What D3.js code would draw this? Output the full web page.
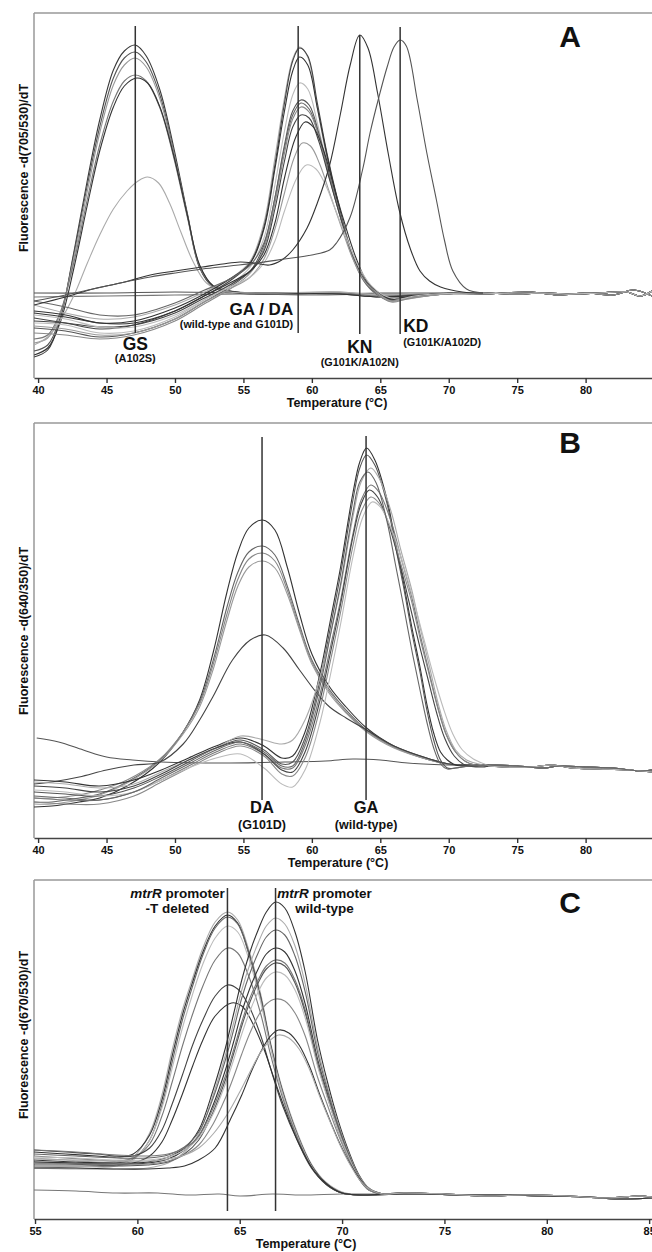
<!DOCTYPE html>
<html>
<head>
<meta charset="utf-8">
<script src="https://cdn.jsdelivr.net/npm/d3@7"></script>
<style>
  body { margin: 0; background: #fff; }
  text { font-family: "Liberation Sans", Arial, sans-serif; font-weight: bold; fill: #111; }
</style>
</head>
<body>
<div id="chart"></div>
<script>
// Temperatura (°C) vs fluorescencia derivada
const ticksAB = [40, 45, 50, 55, 60, 65, 70, 75, 80];
const ticksC = [55, 60, 65, 70, 75, 80, 85];

// ---- Panel A: -d(705/530)/dT ----
const aBlank = [
  [[39.7,0],[45,0],[50,1],[55,0],[60,-1],[65,0],[70,0]],
  [[39.7,-4],[45,-3],[50,-2],[55,-1],[60,-2],[65,-1],[70,-1]]
];
const aGS = [
  [[39.7,-64],[40.7,-57],[41.6,-27],[42.6,40],[43.6,113],[44.5,173],[45.5,223],[46.3,242],[47.1,248],[47.9,237],[48.9,203],[49.9,146],[50.9,80],[51.8,26],[52.8,6],[54.5,0],[58,-1],[62,0],[65,-3],[68,-1],[70,0]],
  [[39.7,-58],[40.7,-52],[41.6,-25],[42.6,38],[43.6,108],[44.5,166],[45.5,215],[46.3,235],[47.1,241],[47.9,231],[48.9,198],[49.9,142],[50.9,78],[51.8,25],[52.8,6],[54.5,1],[58,0],[62,-1],[65,-4],[68,-2],[70,0]],
  [[39.7,-50],[40.7,-45],[41.6,-22],[42.6,34],[43.6,102],[44.5,160],[45.5,208],[46.3,228],[47.1,235],[47.9,226],[48.9,194],[49.9,140],[50.9,78],[51.8,27],[52.8,7],[54.5,1],[58,0],[62,1],[65,-2],[68,-1],[70,0]],
  [[39.7,-46],[40.7,-42],[41.6,-20],[42.6,30],[43.6,94],[44.5,148],[45.5,192],[46.3,212],[47.1,218],[47.9,212],[48.9,185],[49.9,136],[50.9,76],[51.8,27],[52.8,7],[54.5,1],[58,-1],[62,0],[65,-3],[68,-1],[70,0]],
  [[39.7,-62],[40.7,-55],[41.6,-30],[42.6,24],[43.6,88],[44.5,142],[45.5,186],[46.3,207],[47.2,215],[48,210],[48.9,186],[49.9,138],[50.9,78],[51.8,28],[52.8,7],[54.5,1],[58,0],[62,-1],[65,-4],[68,-2],[70,0]],
  [[39.7,-52],[40.7,-44],[41.6,-28],[42.6,-3],[43.6,30],[44.5,58],[45.5,84],[46.5,102],[47.3,112],[48,116],[48.8,110],[49.6,90],[50.4,62],[51.3,32],[52.3,10],[53.5,2],[56,0],[62,1],[65,-2],[68,0],[70,0]]
];
const aGA = [
  [[39.7,-12],[42,-20],[44.5,-26],[47,-24],[50,-12],[52,0],[54,14],[55.5,32],[56.5,70],[57.3,135],[58,195],[58.6,234],[59.1,246],[59.7,236],[60.4,185],[61.1,135],[61.9,88],[62.8,42],[63.7,14],[64.6,0],[65.8,-6],[67,-5],[69,-1],[71,0]],
  [[39.7,-25],[42,-30],[44.5,-36],[47,-32],[50,-18],[52,-4],[54,12],[55.5,30],[56.5,66],[57.3,128],[58,190],[58.6,232],[59.1,245],[59.7,237],[60.4,190],[61.1,140],[61.9,92],[62.8,45],[63.7,15],[64.6,1],[65.8,-7],[67,-5],[69,-2],[71,0]],
  [[39.7,-18],[42,-22],[44.5,-30],[47,-28],[50,-15],[52,-2],[54,14],[55.5,30],[56.5,64],[57.3,124],[58,182],[58.6,222],[59.1,236],[59.7,228],[60.4,185],[61.1,138],[61.9,90],[62.8,44],[63.7,15],[64.6,2],[65.8,-5],[67,-4],[69,-1],[71,0]],
  [[39.7,-30],[42,-32],[44.5,-40],[47,-38],[50,-24],[52,-8],[54,8],[55.5,26],[56.5,55],[57.3,108],[58,162],[58.6,198],[59.1,210],[59.7,204],[60.4,170],[61.1,128],[61.9,85],[62.8,42],[63.7,14],[64.6,0],[65.8,-8],[67,-6],[69,-2],[71,0]],
  [[39.7,-35],[42,-38],[44.5,-44],[47,-40],[50,-26],[52,-10],[54,6],[55.5,22],[56.5,48],[57.3,95],[58,148],[58.6,182],[59.2,193],[59.8,188],[60.5,160],[61.2,122],[62,82],[62.9,40],[63.8,13],[64.7,0],[65.8,-7],[67,-5],[69,-1],[71,0]],
  [[39.7,-8],[42,-14],[44.5,-22],[47,-22],[50,-10],[52,2],[54,14],[55.5,28],[56.5,50],[57.3,95],[58,145],[58.6,178],[59.2,190],[59.8,184],[60.5,158],[61.2,120],[62,80],[62.9,40],[63.8,12],[64.7,-1],[65.8,-8],[67,-5],[69,-2],[71,0]],
  [[39.7,-40],[42,-42],[44.5,-46],[47,-42],[50,-28],[52,-12],[54,4],[55.5,20],[56.5,45],[57.3,90],[58,140],[58.6,174],[59.2,186],[59.8,181],[60.5,157],[61.2,120],[62,82],[62.9,42],[63.8,14],[64.7,0],[65.8,-9],[67,-6],[69,-2],[71,0]],
  [[39.7,-28],[42,-30],[44.5,-34],[47,-32],[50,-20],[52,-6],[54,8],[55.5,22],[56.5,42],[57.3,84],[58,132],[58.6,166],[59.2,178],[59.8,175],[60.5,152],[61.2,118],[62,80],[62.9,41],[63.8,14],[64.7,1],[65.8,-6],[67,-4],[69,-1],[71,0]],
  [[39.7,-20],[42,-24],[44.5,-30],[47,-30],[50,-18],[52,-4],[54,10],[55.5,22],[56.5,38],[57.3,70],[58,115],[58.8,155],[59.5,171],[60.1,166],[60.8,145],[61.5,112],[62.3,74],[63.2,36],[64,12],[64.9,0],[65.8,-6],[67,-4],[69,-1],[71,0]],
  [[39.7,-33],[42,-36],[44.5,-42],[47,-40],[50,-26],[52,-10],[54,4],[55.5,16],[56.5,34],[57.3,64],[58,100],[58.7,135],[59.3,150],[59.9,147],[60.6,128],[61.3,100],[62.1,68],[63,34],[63.9,11],[64.8,0],[65.8,-8],[67,-5],[69,-2],[71,0]],
  [[39.7,-22],[42,-26],[44.5,-34],[47,-34],[50,-22],[52,-8],[54,6],[55.5,16],[56.5,30],[57.3,52],[58,82],[58.9,115],[59.6,128],[60.3,124],[61,108],[61.7,84],[62.5,56],[63.4,27],[64.3,8],[65.2,-2],[66.2,-6],[67.5,-3],[69,-1],[71,0]]
];
const aKN = [
  [[39.7,-12],[42,-4],[44,4],[46,10],[48.2,18],[50,22],[52,26],[53.5,29],[54.75,31],[55.8,30],[56.9,28],[57.8,33],[58.6,43],[59.65,65],[60.4,90],[61.3,128],[62.1,180],[62.8,228],[63.5,258],[64.1,245],[64.8,200],[65.6,138],[66.4,82],[67.2,44],[67.9,22],[68.6,12],[69.4,6],[71,1],[72.5,0]]
];
const aKD = [
  [[39.7,-8],[42,-2],[44,4],[46,10],[48.2,16],[50,20],[52,24],[54,27],[56,30],[58,34],[60,38],[61.3,43],[61.8,50],[62.8,76],[63.7,123],[64.25,160],[64.9,196],[65.5,226],[66,246],[66.45,253],[66.9,247],[67.7,193],[68.4,140],[69.1,93],[69.7,52],[70.3,22],[71.3,4],[72.5,0]]
];
const tailA = [
  [[72.5,0],[75,-1],[77,0],[79,-1],[81,0],[83,1],[84,-3],[84.85,2]],
  [[72.5,-1],[74,0],[76,1],[78,-2],[80,0],[82,-2],[83.5,3],[84.85,-3]]
];
const markersA = [47.1, 59.0, 63.5, 66.45];
const markerSpanA = [[-40, 267], [-40, 267], [-41, 258], [-41, 266]];

// ---- Panel B: -d(640/350)/dT ----
const bBlank = [
  [[39.9,24],[41.5,20],[43.3,12],[45,5],[46.9,2],[49,0],[54,-1],[58,0],[61,1],[63,3],[65,2],[67,-1],[70,-3]]
];
const bDA = [
  [[39.7,-45],[41,-44],[43,-40],[44.5,-36],[46.5,-24],[48.9,0],[50.6,30],[51.8,62],[52.8,110],[53.8,170],[54.6,210],[55.4,234],[56.4,242],[57.3,232],[58.2,195],[59.1,148],[60,108],[61.3,75],[62.5,55],[64,34],[66,16],[68.6,3],[70,-2]],
  [[39.7,-40],[41,-40],[43,-36],[44.5,-32],[46.5,-20],[48.9,2],[50.6,30],[51.8,60],[52.8,102],[53.8,155],[54.6,190],[55.4,210],[56.4,216],[57.3,207],[58.2,176],[59.1,137],[60,102],[61.3,72],[62.5,52],[64,32],[66,15],[68.6,2],[70,-2]],
  [[39.7,-36],[41,-36],[43,-33],[44.5,-28],[46.5,-18],[48.9,3],[50.6,30],[51.8,58],[52.8,98],[53.8,148],[54.6,183],[55.4,203],[56.4,209],[57.3,201],[58.2,172],[59.1,134],[60,100],[61.3,70],[62.5,50],[64,31],[66,15],[68.6,2],[70,-2]],
  [[39.7,-42],[41,-42],[43,-38],[44.5,-33],[46.5,-21],[48.9,1],[50.6,28],[51.8,55],[52.8,93],[53.8,142],[54.6,176],[55.4,195],[56.4,201],[57.3,194],[58.2,168],[59.1,132],[60,98],[61.3,68],[62.5,49],[64,30],[66,14],[68.6,2],[70,-2]],
  [[39.7,-22],[41,-20],[43,-15],[45,-8],[47,-3],[48.9,0],[50.6,18],[51.8,42],[52.8,66],[54.2,102],[55.5,122],[56.6,127],[57.9,114],[59.1,92],[60.3,70],[61.3,55],[62.5,44],[64,32],[66,16],[68.6,3],[70,-2]]
];
const bGA = [
  [[39.7,-18],[42,-20],[44.5,-24],[47,-18],[49,-8],[51,4],[53,16],[54.8,24],[56.5,16],[57.8,4],[58.6,6],[59.5,30],[60.6,89],[61.4,145],[62.1,195],[63,269],[63.5,300],[64,314],[64.6,302],[65.5,262],[66.1,220],[66.7,179],[67.3,135],[67.9,95],[68.4,58],[68.9,29],[69.4,10],[69.9,2],[70.5,-3],[71.5,-4]],
  [[39.7,-30],[42,-32],[44.5,-34],[47,-26],[49,-14],[51,0],[53,14],[54.8,22],[56.5,12],[57.8,-2],[58.6,0],[59.5,24],[60.6,82],[61.4,138],[62.1,188],[63,262],[63.5,294],[64,307],[64.6,297],[65.5,258],[66.1,216],[66.7,175],[67.3,130],[67.9,90],[68.4,52],[68.9,22],[69.4,2],[69.9,-6],[70.5,-6],[71.5,-4]],
  [[39.7,-20],[42,-22],[44.5,-26],[47,-22],[49,-10],[51,2],[53,14],[54.8,26],[56.5,22],[57.8,18],[58.6,22],[59.5,42],[60.6,85],[61.4,130],[62.1,175],[63,245],[63.6,280],[64.3,294],[64.9,284],[65.8,250],[66.5,212],[67.3,172],[67.9,135],[68.6,95],[69.2,60],[69.8,32],[70.5,12],[71.3,2],[72.5,-3]],
  [[39.7,-36],[42,-38],[44.5,-38],[47,-30],[49,-18],[51,-4],[53,10],[54.8,18],[56.5,8],[57.8,-6],[58.6,-6],[59.5,16],[60.6,68],[61.4,118],[62.1,162],[63,228],[63.6,262],[64.3,277],[64.9,270],[65.8,240],[66.5,205],[67.3,165],[67.9,128],[68.6,88],[69.2,55],[69.8,28],[70.5,10],[71.3,0],[72.5,-4]],
  [[39.7,-24],[42,-26],[44.5,-30],[47,-24],[49,-12],[51,2],[53,14],[54.8,20],[56.5,8],[57.8,-8],[58.6,-10],[59.5,10],[60.6,62],[61.4,112],[62.1,158],[63,225],[63.6,258],[64.2,272],[64.8,265],[65.6,238],[66.4,200],[67.1,160],[67.8,120],[68.5,82],[69.1,50],[69.7,24],[70.4,6],[71.2,-3],[72.5,-5]],
  [[39.7,-40],[42,-42],[44.5,-42],[47,-34],[49,-20],[51,-6],[53,8],[54.8,16],[56.5,6],[57.8,-12],[58.6,-14],[59.5,4],[60.6,54],[61.4,104],[62.1,150],[63,216],[63.6,250],[64.3,265],[64.9,259],[65.8,232],[66.5,198],[67.3,160],[67.9,124],[68.6,86],[69.2,54],[69.8,28],[70.5,10],[71.3,0],[72.5,-4]],
  [[39.7,-28],[42,-30],[44.5,-34],[47,-30],[49,-18],[51,-6],[53,4],[54.8,8],[56.5,-6],[57.8,-22],[58.6,-25],[59.5,-8],[60.6,40],[61.4,90],[62.1,138],[63,205],[63.7,244],[64.4,260],[65,255],[65.9,230],[66.7,196],[67.5,158],[68.2,122],[68.9,86],[69.6,54],[70.3,28],[71,12],[71.8,3],[72.8,-3]],
  [[39.7,-34],[42,-36],[44.5,-38],[47,-30],[49,-16],[51,-2],[53,12],[54.8,20],[56.5,10],[57.8,-4],[58.6,-4],[59.5,20],[60.6,76],[61.4,130],[62.1,178],[63,250],[63.5,280],[64.1,290],[64.7,279],[65.5,240],[66.1,198],[66.7,156],[67.3,112],[67.9,72],[68.4,40],[68.9,14],[69.4,-2],[69.9,-7],[70.5,-6],[71.5,-4]]
];
const tailB = [
  [[73,-4],[74,-5],[76,-5],[77.6,-3],[79,-6],[81,-7],[83,-8],[84.85,-10]],
  [[73,-3],[75,-4],[77,-6],[78,-4],[80,-5],[82,-6],[84,-9],[84.85,-8]]
];
const markersB = [56.36, 63.96];
const markerSpanB = [[-38, 325], [-38, 326]];

// ---- Panel C: -d(670/530)/dT ----
const cBlank = [
  [[54.95,0],[57,-1],[59,-3],[61,-3],[62.5,-5],[64,-4],[65,-6],[66.6,-4],[68,-5],[70,-4],[72,-4]]
];
const cDel = [
  [[54.95,32],[56.5,30],[58,28],[59,28],[59.8,33],[60.6,57],[61.2,95],[61.7,140],[62.2,180],[62.7,212],[63.2,242],[63.8,268],[64.4,278],[64.9,270],[65.4,243],[66,198],[66.5,148],[67.1,100],[67.8,58],[68.5,26],[69.2,8],[70,-2],[71,-5]],
  [[54.95,38],[56.5,36],[58,34],[59,33],[59.8,36],[60.6,55],[61.2,90],[61.7,134],[62.2,175],[62.7,208],[63.2,238],[63.8,264],[64.4,275],[64.9,267],[65.4,240],[66,195],[66.5,146],[67.1,98],[67.8,56],[68.5,25],[69.2,7],[70,-3],[71,-5]],
  [[54.95,28],[56.5,27],[58,26],[59,27],[59.8,31],[60.6,50],[61.2,85],[61.7,128],[62.2,170],[62.7,204],[63.2,235],[63.8,262],[64.4,273],[64.9,266],[65.4,239],[66,194],[66.5,145],[67.1,97],[67.8,55],[68.5,24],[69.2,6],[70,-3],[71,-5]],
  [[54.95,22],[56.5,22],[58,22],[59,24],[59.8,30],[60.6,50],[61.2,82],[61.7,122],[62.2,162],[62.7,196],[63.2,226],[63.8,252],[64.4,264],[64.9,258],[65.4,234],[66,190],[66.5,143],[67.1,96],[67.8,55],[68.5,24],[69.2,6],[70,-3],[71,-5]],
  [[54.95,34],[56.5,32],[58,30],[59,29],[59.8,32],[60.6,46],[61.2,74],[61.7,108],[62.2,144],[62.7,176],[63.2,204],[63.8,230],[64.4,242],[64.9,237],[65.4,216],[66,178],[66.5,136],[67.1,92],[67.8,53],[68.5,23],[69.2,6],[70,-3],[71,-5]],
  [[54.95,40],[56.5,38],[58,36],[59,34],[59.8,34],[60.6,42],[61.2,60],[61.7,86],[62.2,115],[62.7,145],[63.2,170],[63.8,194],[64.4,205],[64.9,201],[65.4,186],[66,156],[66.5,122],[67.1,84],[67.8,50],[68.5,22],[69.2,6],[70,-3],[71,-5]],
  [[54.95,26],[56.5,26],[58,25],[59,25],[59.8,27],[60.6,34],[61.2,48],[61.7,70],[62.2,96],[62.7,124],[63.2,150],[63.8,174],[64.6,187],[65.1,184],[65.6,168],[66.2,140],[66.7,110],[67.3,76],[67.9,46],[68.6,20],[69.3,5],[70,-3],[71,-5]]
];
const cWT = [
  [[54.95,30],[57,28],[59,27],[60.5,28],[61.5,33],[62.3,42],[63,60],[63.7,100],[64.3,142],[64.7,176],[65.1,210],[65.5,238],[65.9,260],[66.3,278],[66.75,288],[67.2,282],[67.7,258],[68.2,218],[68.8,150],[69.3,107],[69.8,70],[70.3,40],[70.8,16],[71.3,2],[72,-4]],
  [[54.95,22],[57,21],[59,21],[60.5,22],[61.5,27],[62.3,38],[63,56],[63.7,95],[64.3,135],[64.7,167],[65.1,200],[65.5,226],[65.9,247],[66.3,264],[66.75,272],[67.2,266],[67.7,244],[68.2,206],[68.8,143],[69.3,102],[69.8,67],[70.3,38],[70.8,15],[71.3,2],[72,-4]],
  [[54.95,36],[57,34],[59,32],[60.5,32],[61.5,35],[62.3,43],[63,58],[63.7,92],[64.3,130],[64.7,160],[65.1,192],[65.5,217],[65.9,237],[66.3,253],[66.75,260],[67.2,255],[67.7,234],[68.2,198],[68.8,138],[69.3,99],[69.8,65],[70.3,37],[70.8,14],[71.3,1],[72,-4]],
  [[54.95,28],[57,27],[59,26],[60.5,27],[61.5,31],[62.3,40],[63,54],[63.7,85],[64.3,120],[64.7,148],[65.1,178],[65.5,202],[65.9,221],[66.3,236],[66.75,242],[67.2,238],[67.7,219],[68.2,186],[68.8,131],[69.3,95],[69.8,62],[70.3,35],[70.8,13],[71.3,1],[72,-4]],
  [[54.95,40],[57,38],[59,35],[60.5,34],[61.5,36],[62.3,42],[63,54],[63.7,82],[64.3,114],[64.7,140],[65.1,168],[65.5,192],[65.9,210],[66.3,224],[66.75,230],[67.2,227],[67.7,210],[68.2,180],[68.8,128],[69.3,93],[69.8,61],[70.3,35],[70.8,13],[71.3,1],[72,-4]],
  [[54.95,24],[57,24],[59,24],[60.5,25],[61.5,28],[62.3,36],[63,50],[63.7,78],[64.3,110],[64.7,136],[65.1,164],[65.5,188],[65.9,207],[66.3,221],[66.75,227],[67.2,224],[67.7,207],[68.2,177],[68.8,126],[69.3,92],[69.8,60],[70.3,34],[70.8,12],[71.3,0],[72,-4]],
  [[54.95,33],[57,32],[59,30],[60.5,30],[61.5,33],[62.3,40],[63,52],[63.7,76],[64.3,106],[64.7,130],[65.1,156],[65.5,179],[65.9,198],[66.3,212],[66.75,218],[67.2,215],[67.7,200],[68.2,172],[68.8,124],[69.3,91],[69.8,60],[70.3,34],[70.8,13],[71.3,1],[72,-4]],
  [[54.95,27],[57,26],[59,26],[60.5,26],[61.5,29],[62.3,35],[63,45],[63.7,66],[64.3,92],[64.7,113],[65.1,136],[65.5,157],[65.9,174],[66.3,186],[66.75,191],[67.2,189],[67.7,177],[68.2,154],[68.8,113],[69.3,84],[69.8,56],[70.3,32],[70.8,12],[71.3,0],[72,-4]],
  [[54.95,22],[57,22],[59,21],[60.5,21],[61.5,22],[62.3,24],[63,30],[63.8,42],[64.6,73],[65.1,95],[65.6,120],[66.1,141],[66.5,154],[66.9,160],[67.4,157],[67.9,145],[68.4,124],[68.9,96],[69.4,70],[69.9,46],[70.4,26],[70.9,10],[71.4,0],[72,-4]],
  [[54.95,31],[57,30],[59,29],[60.5,29],[61.5,31],[62.3,35],[63,42],[63.7,56],[64.4,76],[65,98],[65.5,118],[66,137],[66.5,150],[66.9,155],[67.4,152],[67.9,141],[68.4,121],[68.9,94],[69.4,69],[69.9,45],[70.4,25],[70.9,9],[71.4,0],[72,-4]]
];
const tailC = [
  [[73,-4],[74,-4],[76,-5],[78,-5],[80,-6],[82,-7],[83.5,-9],[85.14,-8]],
  [[73,-3],[75,-4],[77,-6],[79,-5],[81,-6],[83,-8],[84.5,-6],[85.14,-7]]
];
const markersC = [64.4, 66.75];
const markerSpanC = [[-21, 302], [-21, 302]];

// Tonos de gris de cada curva (mismo orden que las curvas)
const shadesA = ["#555", "#777",
  "#3a3a3a", "#555", "#999", "#777", "#333", "#aaa",
  "#aaa", "#444", "#333", "#bbb", "#555", "#666", "#888", "#444", "#333", "#999", "#bbb",
  "#333", "#555"];
const shadesB = ["#555",
  "#333", "#666", "#888", "#999", "#444",
  "#333", "#555", "#aaa", "#777", "#444", "#888", "#bbb", "#666"];
const shadesC = ["#777",
  "#aaa", "#333", "#666", "#bbb", "#777", "#444", "#333",
  "#333", "#aaa", "#666", "#333", "#777", "#555", "#bbb", "#888", "#333", "#aaa"];

const width = 652, height = 1252;
const left = 34, right = 652;

const svg = d3.select("#chart").append("svg")
    .attr("width", width)
    .attr("height", height);

const panels = [
  { id: "A", top: 13, axisY: 378, xDom: [39.7, 84.85], yDom: [-85, 280], ticks: ticksAB,
    curves: [...aBlank, ...aGS, ...aGA, ...aKN, ...aKD], shades: shadesA, tails: tailA,
    markers: markersA, spans: markerSpanA,
    yTitle: "Fluorescence -d(705/530)/dT", yTitleY: 168, xTitleX: 337, xTitleY: 407, letterY: 47 },
  { id: "B", top: 423, axisY: 838, xDom: [39.7, 84.85], yDom: [-76, 339], ticks: ticksAB,
    curves: [...bBlank, ...bDA, ...bGA], shades: shadesB, tails: tailB,
    markers: markersB, spans: markerSpanB,
    yTitle: "Fluorescence -d(640/350)/dT", yTitleY: 631, xTitleX: 338, xTitleY: 867, letterY: 453 },
  { id: "C", top: 880, axisY: 1219, xDom: [54.95, 85.14], yDom: [-29, 310], ticks: ticksC,
    curves: [cBlank[0], ...cDel, ...cWT], shades: shadesC, tails: tailC,
    markers: markersC, spans: markerSpanC,
    yTitle: "Fluorescence -d(670/530)/dT", yTitleY: 1035, xTitleX: 306, xTitleY: 1248, letterY: 913 }
];

panels.forEach(p => {
  const x = d3.scaleLinear().domain(p.xDom).range([left, right]);
  const y = d3.scaleLinear().domain(p.yDom).range([p.axisY, p.top]);
  const g = svg.append("g");

  g.append("clipPath").attr("id", "clip" + p.id)
    .append("rect")
    .attr("x", left).attr("y", p.top)
    .attr("width", right - left).attr("height", p.axisY - p.top);

  // marco
  g.append("line")
    .attr("x1", left).attr("x2", right).attr("y1", p.top).attr("y2", p.top)
    .attr("stroke", "#999").attr("stroke-width", 1.5);
  g.append("line")
    .attr("x1", left).attr("x2", left).attr("y1", p.top).attr("y2", p.axisY)
    .attr("stroke", "#999").attr("stroke-width", 1.5);

  // curvas
  const line = d3.line()
      .x(d => x(d[0]))
      .y(d => y(d[1]))
      .curve(d3.curveCatmullRom.alpha(0.5));

  const plot = g.append("g").attr("clip-path", `url(#clip${p.id})`);
  p.curves.forEach((c, i) => {
    const tail = p.tails[i % 2];
    const pts = c[c.length - 1][0] < tail[0][0] ? c.concat(tail) : c;
    plot.append("path")
      .datum(pts)
      .attr("d", line)
      .attr("fill", "none")
      .attr("stroke", p.shades[i])
      .attr("stroke-width", 1.1);
  });

  // líneas verticales de Tm
  p.markers.forEach((t, i) => {
    g.append("line")
      .attr("x1", x(t)).attr("x2", x(t))
      .attr("y1", y(p.spans[i][0])).attr("y2", y(p.spans[i][1]))
      .attr("stroke", "#333")
      .attr("stroke-width", 1.5);
  });

  // eje
  const axis = g.append("g")
    .attr("transform", `translate(0,${p.axisY})`)
    .call(d3.axisBottom(x).tickValues(p.ticks).tickSize(5).tickSizeOuter(0).tickPadding(3));
  axis.select(".domain").attr("stroke", "#444").attr("stroke-width", 1.5);
  axis.selectAll(".tick line").attr("stroke", "#333").attr("stroke-width", 1.4);
  axis.selectAll(".tick text")
    .style("font-family", '"Liberation Sans", Arial, sans-serif')
    .style("font-weight", "bold")
    .style("font-size", "11px")
    .attr("fill", "#111");

  g.append("text")
    .attr("x", p.xTitleX).attr("y", p.xTitleY)
    .attr("text-anchor", "middle")
    .style("font-size", "12.5px")
    .text("Temperature (°C)");

  g.append("text")
    .attr("transform", `translate(28,${p.yTitleY}) rotate(-90)`)
    .attr("text-anchor", "middle")
    .style("font-size", "12.5px")
    .text(p.yTitle);

  g.append("text")
    .attr("x", 570).attr("y", p.letterY)
    .attr("text-anchor", "middle")
    .style("font-size", "30px")
    .text(p.id);

  p.x = x; p.y = y; p.g = g;
});

// Etiquetas de los picos
function label(p, t, dx, yPix, txt, size, anchor) {
  return p.g.append("text")
    .attr("x", p.x(t) + dx).attr("y", yPix)
    .attr("text-anchor", anchor || "middle")
    .style("font-size", size + "px")
    .text(txt);
}

const [pA, pB, pC] = panels;
label(pA, markersA[0], 0, 350, "GS", 17.5);
label(pA, markersA[0], 0, 362, "(A102S)", 11);
label(pA, markersA[1], -5, 315, "GA / DA", 17, "end");
label(pA, markersA[1], -5, 328, "(wild-type and G101D)", 10.8, "end");
label(pA, markersA[2], 0, 353, "KN", 17.5);
label(pA, markersA[2], 0, 366, "(G101K/A102N)", 10.8);
label(pA, markersA[3], 3, 332, "KD", 17.5, "start");
label(pA, markersA[3], 3, 346, "(G101K/A102D)", 10.8, "start");

label(pB, markersB[0], 0, 813, "DA", 16.5);
label(pB, markersB[0], 0, 829, "(G101D)", 12.5);
label(pB, markersB[1], 0, 813, "GA", 16.5);
label(pB, markersB[1], 0, 829, "(wild-type)", 12.5);

const del = label(pC, markersC[0], -50, 898, "", 13.5);
del.append("tspan").style("font-style", "italic").text("mtrR");
del.append("tspan").text(" promoter");
label(pC, markersC[0], -50, 913, "-T deleted", 13.5);
const wt = label(pC, markersC[1], 49, 898, "", 13.5);
wt.append("tspan").style("font-style", "italic").text("mtrR");
wt.append("tspan").text(" promoter");
label(pC, markersC[1], 49, 913, "wild-type", 13.5);
</script>
</body>
</html>
